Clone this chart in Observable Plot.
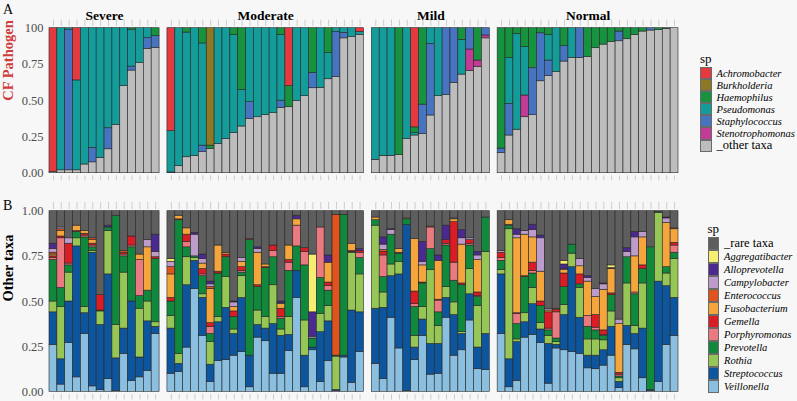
<!DOCTYPE html>
<html>
<head>
<meta charset="utf-8">
<script src="https://cdn.jsdelivr.net/npm/d3@7"></script>
<script src="https://cdn.jsdelivr.net/npm/@observablehq/plot@0.6"></script>
<style>
  html, body { margin: 0; padding: 0; background: #f7f7f7; overflow: hidden; }
  #wrap { position: relative; width: 797px; height: 401px; font-family: 'Liberation Serif', 'Times New Roman', serif; color: #000; }
  .panel { position: absolute; left: 0; }
  .tag { position: absolute; font-size: 14px; line-height: 14px; }
  .leg { position: absolute; }
  .leg .ttl { font-size: 13px; line-height: 13px; margin-bottom: 2px; }
  .leg .row { display: flex; align-items: center; }
  .leg .key { width: 11.5px; flex: none; box-sizing: border-box; border: 0.8px solid #6a6a6a; margin-right: 5px; }
  .leg .lab { white-space: nowrap; }
</style>
</head>
<body>
<div id="wrap">
  <div id="pa" class="panel" style="top:0"></div>
  <div id="pb" class="panel" style="top:190px"></div>
  <div class="tag" style="left:3px;top:3px">A</div>
  <div class="tag" style="left:3px;top:199px">B</div>
  <div id="la" class="leg" style="left:700px;top:52px"></div>
  <div id="lb" class="leg" style="left:707.5px;top:222px"></div>
</div>
<script>
// ---------- facets ----------
const groups = ["Severe", "Moderate", "Mild", "Normal"];

// ---------- Panel A: CF pathogens (stack order bottom -> top) ----------
const aTaxa = ["_other taxa", "Stenotrophomonas", "Staphylococcus", "Pseudomonas", "Haemophilus", "Burkholderia", "Achromobacter"];
const aColors = ["#bdbdbd", "#c13b97", "#4674c0", "#139c99", "#17923f", "#8d7825", "#e3393f"];

const aSevere = [
  [.01,0,0,0,0,0,.99],
  [.02,0,0,.98,0,0,0],
  [.02,0,.97,.01,0,0,0],
  [.02,0,0,.62,0,0,.36],
  [.06,0,0,.94,0,0,0],
  [.075,0,.10,.825,0,0,0],
  [.105,0,0,.895,0,0,0],
  [.165,0,.145,.69,0,0,0],
  [.333,0,0,.667,0,0,0],
  [.60,0,0,.40,0,0,0],
  [.708,0,.027,.255,.01,0,0],
  [.76,0,0,.24,0,0,0],
  [.857,0,.075,.068,0,0,0],
  [.865,0,.08,0,.055,0,0]
];
const aModerate = [
  [.005,0,0,.285,0,0,.71],
  [.05,0,0,.95,0,0,0],
  [.11,0,0,.86,.03,0,0],
  [.12,0,0,.88,0,0,0],
  [.145,0,.045,.705,.105,0,0],
  [.168,0,0,0,.022,.81,0],
  [.20,0,0,.80,0,0,0],
  [.237,0,0,.763,0,0,0],
  [.278,0,0,.676,.046,0,0],
  [.322,0,0,.253,.425,0,0],
  [.375,0,.115,.51,0,0,0],
  [.386,0,0,.614,0,0,0],
  [.402,0,0,.598,0,0,0],
  [.414,0,0,.586,0,0,0],
  [.45,0,.05,.454,.046,0,0],
  [.455,0,0,0,.145,0,.40],
  [.497,0,0,.503,0,0,0],
  [.531,0,0,.469,0,0,0],
  [.586,0,.106,0,.308,0,0],
  [.589,0,0,.411,0,0,0],
  [.648,0,0,.18,.172,0,0],
  [.664,0,.31,.026,0,0,0],
  [.93,0,.037,.033,0,0,0],
  [.938,0,0,.062,0,0,0],
  [.954,0,0,.02,0,0,.026]
];
const aMild = [
  [.092,0,0,.908,0,0,0],
  [.12,0,0,.88,0,0,0],
  [.12,0,0,.88,0,0,0],
  [.126,0,0,0,.874,0,0],
  [.237,0,0,.763,0,0,0],
  [.26,0,0,.016,.04,0,.684],
  [.271,0,.202,0,.527,0,0],
  [.398,0,.494,.108,0,0,0],
  [.531,0,0,.469,0,0,0],
  [.538,0,.462,0,0,0,0],
  [.623,0,.377,0,0,0,0],
  [.68,0,0,.24,.08,0,0],
  [.706,.147,.147,0,0,0,0],
  [.733,.044,0,0,.223,0,0],
  [.93,.02,.05,0,0,0,0]
];
const aNormal = [
  [.14,0,.03,0,.83,0,0],
  [.26,0,.218,.317,.205,0,0],
  [.30,0,0,.66,.04,0,0],
  [.386,.15,0,.334,.13,0,0],
  [.40,0,.324,0,.276,0,0],
  [.634,0,.331,0,.035,0,0],
  [.669,0,.108,.177,.046,0,0],
  [.697,0,0,.303,0,0,0],
  [.77,0,.106,0,.124,0,0],
  [.795,0,0,.205,0,0,0],
  [.795,0,.205,0,0,0,0],
  [.80,0,0,0,.20,0,0],
  [.862,0,0,0,.138,0,0],
  [.887,0,0,0,.113,0,0],
  [.906,0,0,0,.094,0,0],
  [.91,0,.067,0,.023,0,0],
  [.924,0,0,0,.076,0,0],
  [.952,0,0,0,.048,0,0],
  [.977,0,0,0,.023,0,0],
  [.984,0,.016,0,0,0,0],
  [.988,0,0,0,.012,0,0],
  [.995,0,0,0,.005,0,0],
  [1,0,0,0,0,0,0]
];

// ---------- Panel B: other taxa (stack order bottom -> top) ----------
const bTaxa = ["Veillonella", "Streptococcus", "Rothia", "Prevotella", "Porphyromonas", "Gemella", "Fusobacterium", "Enterococcus", "Campylobacter", "Alloprevotella", "Aggregatibacter", "_rare taxa"];
const bColors = ["#8bbfdf", "#0d569d", "#96c656", "#11893c", "#eb7a80", "#dc1c24", "#f4a53b", "#e0531d", "#bd9bcb", "#4a2a8e", "#f6ee72", "#5e5e5e"];

const bSevere = [
  [.26,.18,.06,.23,.01,.01,.01,.01,.02,.03,0,.18],
  [.04,.14,.29,.105,.275,.01,.03,.01,.01,0,0,.09],
  [.27,.23,.16,.04,.01,.11,0,0,.03,0,0,.15],
  [.08,.725,.045,.035,0,.005,.03,0,0,0,0,.08],
  [.32,.115,.035,.385,.01,.01,.015,0,0,0,0,.11],
  [.03,.74,.01,.02,.01,.01,.02,.01,0,0,0,.15],
  [.01,.36,.075,.005,0,.085,0,0,0,0,0,.465],
  [.07,.58,.24,.02,0,0,0,0,0,.01,0,.08],
  [.005,.18,.185,.605,0,0,0,0,0,0,0,.025],
  [.21,.14,.31,.09,.01,.01,0,.01,0,0,0,.22],
  [.06,.44,0,.30,.01,.05,0,0,0,0,0,.14],
  [.08,.11,.27,.07,.2,0,.03,0,0,0,0,.24],
  [.115,.275,.11,.06,0,0,.24,0,.04,0,0,.16],
  [.32,.04,.025,.35,0,.01,0,0,.03,.095,0,.13]
];
const bModerate = [
  [.10,.25,.07,.08,0,.02,.13,.04,.03,0,.015,.265],
  [.11,.045,.055,.74,0,.005,.02,0,0,0,0,.025],
  [.245,.345,.155,.055,.03,.04,.035,0,0,0,0,.095],
  [.57,.155,.015,.01,0,0,0,0,.12,.01,0,.12],
  [.31,.21,.02,.10,.01,.03,.03,0,.025,.025,0,.24],
  [.055,.095,.125,.045,.04,.02,.19,.01,.015,.015,0,.39],
  [.17,.215,.03,.24,0,.01,.145,0,0,0,0,.19],
  [.175,.29,.17,.11,0,.015,.01,0,0,0,0,.23],
  [.20,.12,.025,.07,0,.03,.025,0,.025,.005,0,.50],
  [.22,.30,.12,.02,.01,.02,.03,0,.02,0,0,.26],
  [.025,.175,0,.64,0,.005,0,0,0,0,0,.155],
  [.30,.07,.08,.13,0,.01,.18,0,.02,.01,0,.20],
  [.28,.07,.065,.27,0,.005,.015,0,0,0,0,.295],
  [.10,.275,.215,.155,.035,.03,0,0,0,0,0,.19],
  [.10,.21,.035,.06,.01,.045,.025,0,.005,.01,0,.50],
  [.225,.09,.10,.255,.045,.015,.08,0,0,0,0,.19],
  [.52,.15,0,.135,.115,0,.035,0,0,.02,0,.025],
  [.025,.175,.195,.305,.075,.02,0,0,0,0,0,.205],
  [.23,.015,0,.05,0,0,0,0,.01,.135,.32,.24],
  [.055,.275,.10,.20,.28,0,0,0,0,0,0,.09],
  [.17,.22,.085,.085,.025,.02,.11,0,0,.04,0,.245],
  [.005,.005,.185,.005,0,0,0,.78,0,0,0,.02],
  [.19,.01,0,.78,0,0,0,0,0,0,0,.02],
  [.05,.40,.32,.005,0,.005,.04,0,0,0,0,.18],
  [.22,.22,.21,.09,.03,.01,0,0,0,.01,0,.21]
];
const bMild = [
  [.155,.305,.46,.03,0,0,.015,0,0,0,0,.035],
  [.07,.395,.085,.085,.12,.02,0,.01,.03,.04,0,.145],
  [.41,.23,.065,.165,0,0,0,0,.025,.005,0,.10],
  [.24,.41,.07,.045,0,.005,.02,0,0,0,0,.21],
  [.005,.92,0,.03,0,0,.005,0,0,0,0,.04],
  [.175,.07,.065,.16,.015,.07,.29,0,0,0,0,.155],
  [.31,.09,.07,.13,0,.005,.095,0,.02,.11,0,.17],
  [.095,.17,.41,.115,.12,0,.005,0,0,0,0,.085],
  [.10,.165,.10,.075,.065,.005,.215,0,0,.03,0,.245],
  [.41,.11,.06,.23,.01,.02,0,0,0,.08,0,.08],
  [.20,.225,.07,.12,.10,.225,.015,0,.005,0,0,.04],
  [.23,.09,.01,.26,0,.01,.215,0,.035,.045,0,.105],
  [.395,.145,.14,.13,.01,.02,0,0,.01,0,0,.15],
  [.125,.12,.23,.05,.005,.02,.18,0,.025,.02,0,.225],
  [.12,.20,.455,.19,0,0,0,0,0,0,0,.035]
];
const bNormal = [
  [.32,.33,.025,.05,.015,.03,0,0,.01,0,0,.22],
  [.025,.155,.72,.02,.005,0,.025,0,0,0,0,.05],
  [.06,.215,.015,.085,.055,.005,.415,0,.02,.03,0,.10],
  [.30,.085,.05,.20,0,.005,.23,0,.02,0,0,.11],
  [.315,.17,.09,.08,.015,.045,.14,0,.04,.03,0,.075],
  [.27,.075,.035,.095,0,.025,.165,0,.185,.015,0,.135],
  [.045,.22,.045,.03,.01,.09,.01,0,.01,0,0,.54],
  [.24,.02,.015,.02,.145,.015,.005,0,0,0,0,.54],
  [.23,.195,.055,.10,0,.075,.02,0,.005,.025,.02,.275],
  [.22,.47,.075,.05,0,0,0,0,0,0,0,.185],
  [.21,.20,.165,.02,0,.055,.045,0,.04,0,0,.265],
  [.13,.07,.09,.07,.06,0,.19,0,.02,.01,0,.36],
  [.125,.075,.09,.05,.015,.07,.10,0,.045,0,0,.43],
  [.145,.085,.055,.025,.005,.025,.225,0,.03,.005,0,.40],
  [.20,.16,.085,.09,0,.01,.135,0,0,.005,.015,.30],
  [.02,.035,.02,.01,.01,.01,.27,0,.025,0,0,.60],
  [.26,.105,.235,.145,0,0,0,0,.03,.02,0,.205],
  [.235,.085,.045,.175,.01,0,.20,0,.105,.03,0,.115],
  [.075,.275,.25,.08,0,.02,.155,0,.03,0,0,.115],
  [.005,.005,0,.79,0,0,0,0,0,0,0,.20],
  [.055,.555,.38,.005,0,0,0,0,0,0,0,.005],
  [.26,.325,.07,.035,0,0,.245,0,.025,.005,0,.035],
  [.31,.21,.215,.035,.04,.015,.075,.005,0,0,0,.095]
];

// ---------- build stacked rows; one empty slot between facets ----------
function build(panels, taxa) {
  const rows = [], centers = [], labels = [];
  let pos = 0;
  panels.forEach((bars, gi) => {
    const start = pos;
    bars.forEach(vals => {
      let cum = 0;
      vals.forEach((v, k) => {
        if (v > 0) rows.push({x1: pos, x2: pos + 1, y1: cum, y2: cum + v, taxon: taxa[k]});
        cum += v;
      });
      centers.push(pos + 0.5);
      pos++;
    });
    labels.push({x: (start + pos) / 2, text: groups[gi]});
    pos++;
  });
  return {rows, centers, labels, total: pos - 1};
}

function chart(data, taxa, colors, o) {
  return Plot.plot({
    width: 797, height: o.height,
    marginLeft: 49, marginRight: 119, marginTop: o.mt, marginBottom: o.mb,
    style: {background: "transparent", fontFamily: "'Liberation Serif', 'Times New Roman', serif", fontSize: "12.5px", overflow: "visible"},
    x: {domain: [0, data.total], axis: null},
    y: {domain: [0, 1], axis: null},
    color: {domain: taxa, range: colors},
    marks: [
      Plot.rect(data.rows, {x1: "x1", x2: "x2", y1: "y1", y2: "y2", fill: "taxon", stroke: "#262626", strokeWidth: 0.6}),
      Plot.axisX({anchor: "top", ticks: data.centers, tickSize: o.tt, tickFormat: () => "", stroke: "#cdcdcd", dy: -2.7, label: null}),
      Plot.axisX({anchor: "bottom", ticks: data.centers, tickSize: o.bt, tickFormat: () => "", stroke: "#cdcdcd", dy: 2.7, label: null}),
      Plot.axisY({ticks: [0, 0.25, 0.5, 0.75, 1], tickFormat: o.yfmt, tickSize: 0, tickPadding: 6, label: null, fill: "#4d4d4d", fontSize: 12.5}),
      Plot.text([o.ylabel], {text: d => d, frameAnchor: "left", dx: -41, rotate: -90, fill: o.ycolor, fontWeight: "bold", fontSize: 14.5}),
      o.strips ? Plot.text(data.labels, {x: "x", text: "text", frameAnchor: "top", dy: -18, fontWeight: "bold", fontSize: 13.5}) : null
    ]
  });
}

const A = build([aSevere, aModerate, aMild, aNormal], aTaxa);
const B = build([bSevere, bModerate, bMild, bNormal], bTaxa);

document.getElementById("pa").append(chart(A, aTaxa, aColors, {
  height: 190, mt: 27.7, mb: 17.3, tt: 6.5, bt: 5,
  yfmt: d => d === 1 ? "100" : d.toFixed(2),
  ylabel: "CF Pathogen", ycolor: "#cf3b3b", strips: true
}));
document.getElementById("pb").append(chart(B, bTaxa, bColors, {
  height: 211, mt: 20.7, mb: 9.7, tt: 7, bt: 5.5,
  yfmt: d => d.toFixed(2),
  ylabel: "Other taxa", ycolor: "#000", strips: false
}));

// ---------- legends ----------
function legend(id, taxa, colors, rowH) {
  const el = document.getElementById(id);
  const t = document.createElement("div");
  t.className = "ttl"; t.textContent = "sp"; el.append(t);
  for (let i = taxa.length - 1; i >= 0; i--) {
    const r = document.createElement("div"); r.className = "row"; r.style.height = rowH + "px";
    const k = document.createElement("div"); k.className = "key"; k.style.height = rowH + "px"; k.style.background = colors[i];
    const l = document.createElement("div"); l.className = "lab"; l.textContent = taxa[i];
    const italic = !taxa[i].startsWith("_");
    l.style.fontStyle = italic ? "italic" : "normal";
    l.style.fontSize = italic ? "10.5px" : "12.5px";
    r.append(k, l); el.append(r);
  }
}
legend("la", aTaxa, aColors, 12.1);
legend("lb", bTaxa, bColors, 13);
</script>
</body>
</html>
